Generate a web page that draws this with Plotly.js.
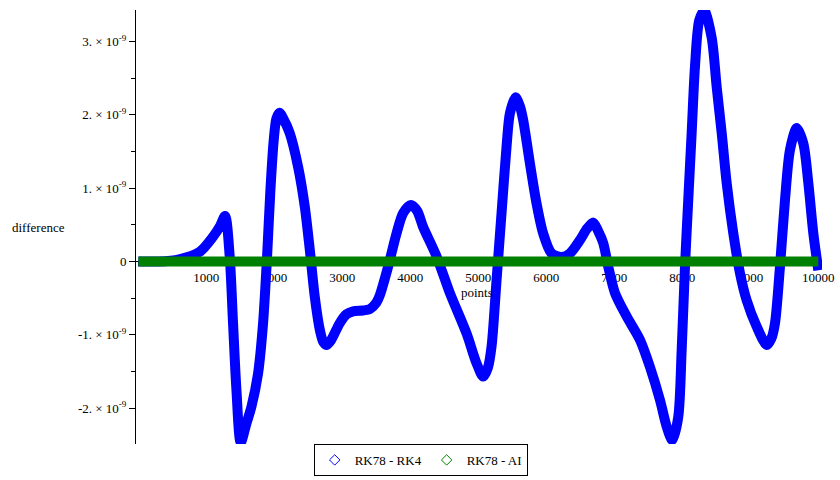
<!DOCTYPE html>
<html>
<head>
<meta charset="utf-8">
<script src="https://cdn.plot.ly/plotly-3.0.1.min.js"></script>
<style>html,body{margin:0;padding:0;background:#fff;}#chart{width:840px;height:480px;}</style>
</head>
<body>
<div id="chart"></div>
<script>
// x: points, y: difference in units of 1e-9
const rk4X = [0,300,600,900,1100,1200,1275,1343,1392,1442,1505,1589,1663,1760,1834,1893,1942,1991,2030,2075,2130,2226,2349,2447,2521,2594,2668,2720,2770,2830,2962,3060,3158,3300,3403,3500,3551,3673,3796,3894,4007,4100,4188,4385,4581,4826,4974,5071,5140,5194,5268,5341,5415,5464,5547,5610,5659,5758,5856,5954,6077,6224,6346,6493,6600,6690,6760,6837,6910,7009,7181,7377,7524,7671,7769,7852,7940,7990,8039,8087,8137,8186,8249,8323,8432,8505,8579,8652,8750,8848,8946,9094,9241,9310,9363,9436,9510,9583,9682,9779,9853,9927,10000];
const rk4Y = [0,0,0.03,0.13,0.34,0.48,0.62,0.07,-0.84,-1.75,-2.47,-2.21,-1.98,-1.53,-0.84,0.07,0.98,1.66,1.95,2.03,1.95,1.75,1.29,0.75,0.16,-0.48,-0.93,-1.10,-1.14,-1.08,-0.84,-0.72,-0.68,-0.67,-0.65,-0.56,-0.46,-0.07,0.38,0.66,0.77,0.69,0.47,0.07,-0.43,-0.98,-1.39,-1.57,-1.45,-1.16,-0.25,0.66,1.57,2.02,2.24,2.12,1.93,1.34,0.79,0.38,0.11,0.06,0.11,0.29,0.45,0.53,0.42,0.25,-0.07,-0.43,-0.75,-1.07,-1.44,-1.89,-2.25,-2.44,-2.12,-1.21,-0.07,0.84,1.75,2.66,3.29,3.42,3.05,2.38,1.75,1.07,0.38,-0.16,-0.53,-0.89,-1.14,-1.05,-0.84,-0.07,0.84,1.52,1.82,1.61,1.07,0.38,-0.12];
const aiX = [0,1000,2000,3000,4000,5000,6000,7000,8000,9000,10000];
const aiY = [0,0,0,0,0,0,0,0,0,0,0];
const seriesNames = ["RK78 - RK4", "RK78 - AI"];
const yTickVals = [-2,-1,0,1,2,3];
const yTickText = ["-2. × 10<sup>-9</sup>","-1. × 10<sup>-9</sup>","0","1. × 10<sup>-9</sup>","2. × 10<sup>-9</sup>","3. × 10<sup>-9</sup>"];
const xTickVals = [1000,2000,3000,4000,5000,6000,7000,8000,9000,10000];
const xTickText = ["1000","2000","3000","4000","5000","6000","7000","8000","9000","10000"];

const blue = "#0000ff", green = "#008000";
const yMin = -2.49, yMax = 3.43;
const serif = "Liberation Serif, Times New Roman, serif";

const traces = [
  {x: rk4X, y: rk4Y, mode: "lines", line: {color: blue, width: 10, shape: "spline", smoothing: 0.8}, showlegend: false, cliponaxis: false, hoverinfo: "skip"},
  {x: aiX, y: aiY, mode: "lines", line: {color: green, width: 10}, showlegend: false, cliponaxis: false, hoverinfo: "skip"},
  {x: [null], y: [null], mode: "markers", name: seriesNames[0], marker: {symbol: "diamond-open", size: 8, color: blue, line: {width: 1, color: blue}}},
  {x: [null], y: [null], mode: "markers", name: seriesNames[1], marker: {symbol: "diamond-open", size: 8, color: green, line: {width: 1, color: green}}}
];

const layout = {
  width: 840, height: 480,
  margin: {l: 136, r: 18, t: 10, b: 36, autoexpand: false},
  paper_bgcolor: "#fff", plot_bgcolor: "#fff",
  font: {family: serif, size: 13, color: "#000"},
  showlegend: true,
  legend: {orientation: "h", x: 0.415, xanchor: "center", y: 0, yanchor: "top",
           bordercolor: "#000", borderwidth: 1, font: {family: serif, size: 13, color: "#000"}},
  xaxis: {
    range: [-35, 10054], anchor: "free", position: (0 - yMin) / (yMax - yMin),
    showgrid: false, zeroline: false, showline: true, linecolor: "#000", linewidth: 1,
    tickvals: xTickVals, ticktext: xTickText, ticks: "outside", ticklen: 4, tickcolor: "#000",
    minor: {dtick: 500, tick0: 0, ticks: "outside", ticklen: 4, tickcolor: "#000"},
    tickfont: {family: serif, size: 13, color: "#000"}, layer: "below traces"
  },
  yaxis: {
    range: [yMin, yMax], showgrid: false, zeroline: false, showline: true, linecolor: "#000", linewidth: 1,
    tickvals: yTickVals, ticktext: yTickText, ticks: "outside", ticklen: 6, tickcolor: "#000",
    minor: {dtick: 0.5, tick0: 0, ticks: "outside", ticklen: 4, tickcolor: "#000"},
    tickfont: {family: serif, size: 13, color: "#000"}
  },
  annotations: [
    {text: "difference", xref: "paper", yref: "paper", x: -0.1837, y: 0.498, xanchor: "left", yanchor: "middle", showarrow: false, font: {family: serif, size: 13, color: "#000"}},
    {text: "points", xref: "paper", yref: "paper", x: 0.4978, y: 0.348, xanchor: "center", yanchor: "middle", showarrow: false, font: {family: serif, size: 13, color: "#000"}}
  ]
};

Plotly.newPlot("chart", traces, layout, {displayModeBar: false, staticPlot: true});
</script>
</body>
</html>
